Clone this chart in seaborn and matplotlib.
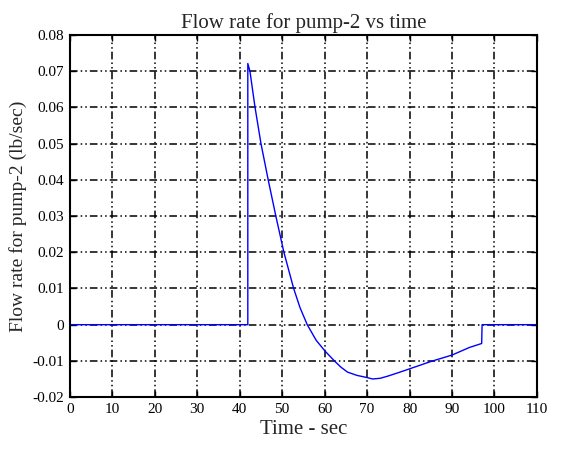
import matplotlib
matplotlib.use("Agg")
import matplotlib.pyplot as plt
import seaborn as sns
import pandas as pd

time_sec = [0, 41.9, 41.9, 42.4, 43.6, 45.0, 46.7, 48.5, 50.4, 52.7, 54.2, 55.9, 58.0,
            60.1, 62.3, 63.8, 65.4, 67.6, 70.0, 71.3, 73.1, 74.9, 77.5, 80.0, 85.2, 90.0,
            94.1, 97.0, 97.1, 110]
flow_rate = [0, 0, 0.0721, 0.070, 0.060, 0.050, 0.040, 0.030, 0.020, 0.010, 0.0047, 0.0,
             -0.0043, -0.0073, -0.0100, -0.0117, -0.0131, -0.0140, -0.0146, -0.0150,
             -0.0148, -0.0142, -0.0132, -0.0122, -0.0101, -0.0084, -0.0063, -0.0052, 0.0, 0.0]
x_ticks = [0, 10, 20, 30, 40, 50, 60, 70, 80, 90, 100, 110]
y_ticks = [-0.02, -0.01, 0, 0.01, 0.02, 0.03, 0.04, 0.05, 0.06, 0.07, 0.08]
y_tick_labels = ["-0.02", "-0.01", "0", "0.01", "0.02", "0.03", "0.04", "0.05", "0.06", "0.07", "0.08"]

sns.set_style("white")
plt.rcParams["font.family"] = ["Liberation Serif", "DejaVu Serif"]

df = pd.DataFrame({"t": time_sec, "q": flow_rate})

fig = plt.figure(figsize=(5.88, 4.65), dpi=100)
ax = fig.add_axes([0.119, 0.146, 0.794, 0.779])
sns.lineplot(data=df, x="t", y="q", sort=False, estimator=None, color="#0000ff",
             linewidth=1.0, ax=ax)
ax.set_xlim(0, 110)
ax.set_ylim(-0.02, 0.08)
ax.set_xticks(x_ticks)
ax.set_xticklabels([str(v) for v in x_ticks])
ax.set_yticks(y_ticks)
ax.set_yticklabels(y_tick_labels)
ax.grid(True, color="black", linewidth=1.1, linestyle=(0, (5, 2, 1, 2, 1, 2)))
ax.set_axisbelow(True)
for s in ax.spines.values():
    s.set_color("black")
    s.set_linewidth(1.5)
    s.set_visible(True)
ax.tick_params(axis="both", direction="in", length=4, width=1, colors="black",
               labelsize=11, bottom=True, left=True, top=True, right=True, pad=4)
ax.set_title("Flow rate for pump-2 vs time", fontsize=15, pad=5)
ax.set_xlabel("Time - sec", fontsize=15, labelpad=3)
ax.set_ylabel("Flow rate for pump-2 (lb/sec)", fontsize=14, labelpad=4)
fig.savefig("out.png", dpi=100, facecolor="white")
